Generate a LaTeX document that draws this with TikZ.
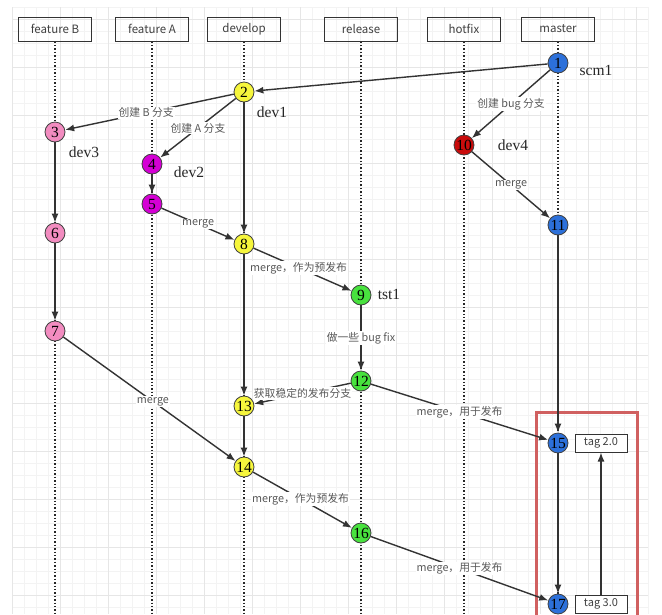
\documentclass[tikz,border=0pt]{standalone}
\usepackage{fontspec}
\setmainfont{Liberation Serif}
\newfontfamily\cjk{Noto Sans CJK SC}
\usetikzlibrary{arrows.meta}

\definecolor{gridfaint}{RGB}{243,243,243}
\definecolor{gridmajor}{RGB}{230,230,230}
\definecolor{cblue}{RGB}{44,112,218}
\definecolor{cyellow}{RGB}{246,246,60}
\definecolor{cpink}{RGB}{242,140,192}
\definecolor{cmagenta}{RGB}{212,0,212}
\definecolor{cgreen}{RGB}{72,226,62}
\definecolor{cred}{RGB}{202,12,12}
\definecolor{frame}{RGB}{208,96,96}

\begin{document}
\begin{tikzpicture}[x=1pt,y=-1pt,
    lane/.style={draw=black!85,line width=1.4pt,dotted},
    branch/.style={draw=black!80,line width=1pt,minimum width=73pt,minimum height=24pt,font=\cjk\fontsize{11.5}{13}\selectfont,text=black!75},
    commit/.style={circle,draw=black!75,line width=0.8pt,minimum size=20pt,inner sep=0pt,font=\fontsize{15.5}{15.5}\selectfont},
    flow/.style={draw=black!80,line width=1.4pt,-{Latex[length=9pt,width=7pt]}},
    msg/.style={fill=white,inner sep=1pt,font=\cjk\fontsize{10.8}{12}\selectfont,text=black!65},
    tagbox/.style={draw=black!80,line width=1pt,fill=white,minimum width=52pt,minimum height=18pt,inner sep=0pt,font=\cjk\fontsize{11}{12}\selectfont,text=black!75},
    devlabel/.style={font=\fontsize{15.5}{15.5}\selectfont,text=black!85}
]
\useasboundingbox (0,0) rectangle (662,614);

% Grid
\foreach \x in {12,24,...,648}
    \draw[gridfaint] (\x,7) -- (\x,614);
\foreach \y in {7,19,...,614}
    \draw[gridfaint] (12,\y) -- (648,\y);
\foreach \x in {12,60,...,648}
    \draw[gridmajor] (\x,7) -- (\x,614);
\foreach \y in {19,67,...,614}
    \draw[gridmajor] (12,\y) -- (648,\y);

% Branch heads
\node[branch] (fB) at (55,29) {feature B};
\node[branch] (fA) at (152,29) {feature A};
\node[branch] (dev) at (244,29) {develop};
\node[branch] (rel) at (361,29) {release};
\node[branch] (hot) at (464,29) {hotfix};
\node[branch] (mas) at (558,29) {master};

% Lanes
\foreach \b in {fB,fA,dev,rel,hot,mas}
    \draw[lane] (\b.south) -- (\b.south |- 0,620);

% Release frame
\draw[frame,line width=3pt] (536,620) -- (536,412) -- (637,412) -- (637,620);

% Commits
\node[commit,fill=cblue] (c1) at (558,63) {1};
\node[commit,fill=cyellow] (c2) at (244,92) {2};
\node[commit,fill=cpink] (c3) at (55,132) {3};
\node[commit,fill=cmagenta] (c4) at (152,164) {4};
\node[commit,fill=cmagenta] (c5) at (152,204) {5};
\node[commit,fill=cpink] (c6) at (55,233) {6};
\node[commit,fill=cpink] (c7) at (55,331) {7};
\node[commit,fill=cyellow] (c8) at (244,244) {8};
\node[commit,fill=cgreen] (c9) at (361,295) {9};
\node[commit,fill=cred] (c10) at (464,145) {10};
\node[commit,fill=cblue] (c11) at (558,225) {11};
\node[commit,fill=cgreen] (c12) at (361,381) {12};
\node[commit,fill=cyellow] (c13) at (244,406) {13};
\node[commit,fill=cyellow] (c14) at (244,467) {14};
\node[commit,fill=cblue] (c15) at (558,443) {15};
\node[commit,fill=cgreen] (c16) at (361,533) {16};
\node[commit,fill=cblue] (c17) at (558,604) {17};

% Names
\node[devlabel] (n1) at (596,70) {scm1};
\node[devlabel] (n2) at (272,112) {dev1};
\node[devlabel] (n3) at (84,152) {dev3};
\node[devlabel] (n4) at (189,172) {dev2};
\node[devlabel] (n5) at (513,145) {dev4};
\node[devlabel] (n6) at (389,294) {tst1};

% Tags
\node[tagbox] (t2) at (601,443) {tag 2.0};
\node[tagbox] (t3) at (601,604) {tag 3.0};

% Flow
\draw[flow] (c1) -- (c2);
\draw[flow] (c2) -- node[msg,pos=0.52] {创建 B 分支} (c3);
\draw[flow] (c2) -- node[msg,pos=0.5] {创建 A 分支} (c4);
\draw[flow] (c1) -- node[msg,pos=0.5] {创建 bug 分支} (c10);
\draw[flow] (c10) -- node[msg,pos=0.5] {merge} (c11);
\draw[flow] (c3) -- (c6);
\draw[flow] (c6) -- (c7);
\draw[flow] (c4) -- (c5);
\draw[flow] (c2) -- (c8);
\draw[flow] (c5) -- node[msg,pos=0.5] {merge} (c8);
\draw[flow] (c8) -- node[msg,pos=0.46] {merge，作为预发布} (c9);
\draw[flow] (c9) -- node[msg,pos=0.5] {做一些 bug fix} (c12);
\draw[flow] (c8) -- (c13);
\draw[flow] (c12) -- node[msg,pos=0.5] {获取稳定的发布分支} (c13);
\draw[flow] (c13) -- (c14);
\draw[flow] (c7) -- node[msg,pos=0.52] {merge} (c14);
\draw[flow] (c11) -- (c15);
\draw[flow] (c12) -- node[msg,pos=0.5] {merge，用于发布} (c15);
\draw[flow] (c14) -- node[msg,pos=0.48] {merge，作为预发布} (c16);
\draw[flow] (c15) -- (c17);
\draw[flow] (c16) -- node[msg,pos=0.5] {merge，用于发布} (c17);
\draw[flow] (t3) -- (t2);

\end{tikzpicture}
\end{document}
